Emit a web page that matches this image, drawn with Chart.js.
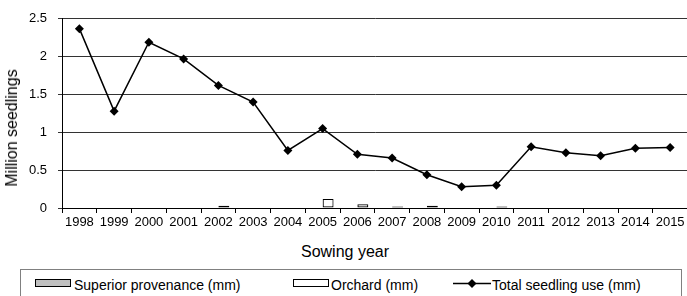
<!DOCTYPE html>
<html>
<head>
<meta charset="utf-8">
<script src="https://cdn.jsdelivr.net/npm/chart.js@4.4.0/dist/chart.umd.min.js"></script>
<style>
  html, body { margin: 0; padding: 0; background: #fff; overflow: hidden; width: 687px; height: 296px; }
  body { position: relative; font-family: "Liberation Sans", Arial, sans-serif; color: #000; }
  #wrap { position: absolute; left: 0; top: 0; width: 692px; height: 240px; }
  #ytitle { position: absolute; left: 12px; top: 128px; font-size: 16px; white-space: nowrap;
            transform: translate(-50%, -50%) rotate(-90deg); }
  #xtitle { position: absolute; left: 345px; top: 252px; font-size: 16px; white-space: nowrap;
            transform: translate(-50%, -50%); }
  #legend { position: absolute; left: 20px; top: 269px; width: 662px; height: 40px;
            border: 1px solid #808080; box-sizing: border-box; font-size: 14px; }
  .item { position: absolute; top: 7px; white-space: nowrap; line-height: 16px; }
  .sw { position: absolute; top: 9px; width: 34px; height: 6px; border: 1px solid #000; }
</style>
</head>
<body>
<div id="wrap"><canvas id="chart" width="692" height="240"></canvas></div>
<div id="ytitle">Million seedlings</div>
<div id="xtitle">Sowing year</div>
<div id="legend">
  <div class="sw" style="left:14px; background:#c0c0c0;"></div>
  <div class="item" style="left:53px;">Superior provenance (mm)</div>
  <div class="sw" style="left:272px; background:#fff;"></div>
  <div class="item" style="left:310px;">Orchard (mm)</div>
  <canvas id="lineSw" width="40" height="14" style="position:absolute; left:431px; top:6px;"></canvas>
  <div class="item" style="left:471px;">Total seedling use (mm)</div>
</div>
<script>
var years = ['1998','1999','2000','2001','2002','2003','2004','2005','2006','2007','2008','2009','2010','2011','2012','2013','2014','2015'];
var superior = [0,0,0,0,0,0,0,0,0,0,0,0,0,0,0,0,0,0];
var orchard = [0,0,0,0,0.03,0,0,0.12,0.05,0.02,0.03,0,0.02,0,0,0,0,0];
var totalUse = [2.37,1.28,2.19,1.97,1.62,1.40,0.76,1.05,0.71,0.66,0.44,0.28,0.30,0.81,0.73,0.69,0.79,0.80];
var yTicks = [0, 0.5, 1, 1.5, 2, 2.5];

var font = { family: '"Liberation Sans", Arial, sans-serif', size: 13 };

var ctx = document.getElementById('chart').getContext('2d');
var myChart = new Chart(ctx, {
  type: 'bar',
  data: {
    labels: years,
    datasets: [
      {
        type: 'line',
        label: 'Total seedling use (mm)',
        data: totalUse,
        borderColor: '#000',
        backgroundColor: '#000',
        borderWidth: 1.5,
        pointStyle: 'rectRot',
        pointRadius: 4.5,
        pointBackgroundColor: '#000',
        pointBorderColor: '#000',
        pointBorderWidth: 0,
        tension: 0,
        order: 0
      },
      {
        label: 'Superior provenance (mm)',
        data: superior,
        backgroundColor: '#c0c0c0',
        borderColor: '#000',
        borderWidth: 1,
        borderSkipped: false,
        categoryPercentage: 0.63,
        barPercentage: 1,
        order: 1
      },
      {
        label: 'Orchard (mm)',
        data: orchard,
        backgroundColor: '#fff',
        borderColor: '#000',
        borderWidth: 1.2,
        borderSkipped: false,
        categoryPercentage: 0.63,
        barPercentage: 1,
        order: 1
      }
    ]
  },
  options: {
    responsive: false,
    animation: false,
    devicePixelRatio: 1,
    layout: { padding: { top: 15, right: 0, bottom: 0, left: 0 } },
    plugins: {
      legend: { display: false },
      tooltip: { enabled: false },
      title: { display: false }
    },
    scales: {
      x: {
        offset: true,
        afterFit: function (s) { s.height = 32; },
        grid: {
          offset: true,
          drawOnChartArea: false,
          drawTicks: true,
          tickLength: 5,
          color: '#000'
        },
        border: { display: true, color: '#000', width: 1 },
        ticks: { color: '#000', font: font, padding: 2, maxRotation: 0, autoSkip: false }
      },
      y: {
        min: 0,
        max: 2.5,
        afterFit: function (s) { s.width = 62; },
        afterBuildTicks: function (s) { s.ticks = yTicks.map(function (v) { return { value: v }; }); },
        grid: { color: '#333', tickLength: 4, drawTicks: true },
        border: { display: true, color: '#000', width: 1 },
        ticks: {
          color: '#000',
          font: font,
          padding: 11,
          callback: function (v) { return String(v); }
        }
      }
    }
  }
});

// legend line swatch
var lc = document.getElementById('lineSw').getContext('2d');
lc.strokeStyle = '#000';
lc.lineWidth = 1.5;
lc.beginPath(); lc.moveTo(1, 7.5); lc.lineTo(39, 7.5); lc.stroke();
lc.fillStyle = '#000';
lc.beginPath(); lc.moveTo(20, 3); lc.lineTo(24.5, 7.5); lc.lineTo(20, 12); lc.lineTo(15.5, 7.5); lc.closePath(); lc.fill();
</script>
</body>
</html>
